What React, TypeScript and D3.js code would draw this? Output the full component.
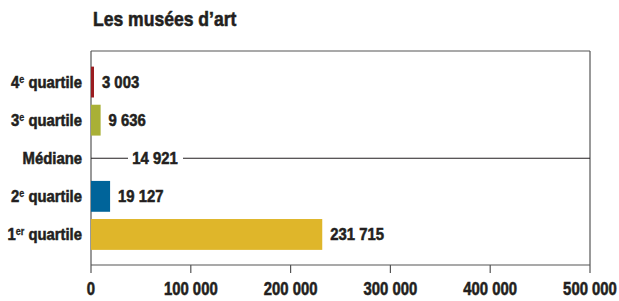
import React from "react";
import * as d3 from "d3";

const categories = ["4e quartile", "3e quartile", "Médiane", "2e quartile", "1er quartile"];
const labelMain = ["4", "3", "Médiane", "2", "1"];
const labelSup = ["e", "e", "", "e", "er"];
const values = [3003, 9636, 14921, 19127, 231715];
const isLine = [false, false, true, false, false];
const colors = ["#9a1c20", "#a9b036", "", "#00649a", "#dfb62a"];
const ticks = [0, 100000, 200000, 300000, 400000, 500000];
const title = "Les musées d’art";

const FONT = "'Liberation Sans', Arial, sans-serif";
const fmt = (v: number) => d3.format(",")(v).replace(/,/g, " ");
const INK = "#231f20";

function T(props: { x: number; y: number; sx: number; size: number; anchor?: string; children: React.ReactNode }) {
  return (
    <text
      transform={`translate(${props.x},${props.y}) scale(${props.sx},1)`}
      fontSize={props.size}
      textAnchor={props.anchor || "start"}
      fill={INK}
      stroke={INK}
      strokeWidth={0.55}
    >
      {props.children}
    </text>
  );
}

export default function App() {
  const W = 619, H = 301;
  const left = 91, right = 590, top = 51, bottom = 265;
  const x = d3.scaleLinear().domain([0, 500000]).range([left, right]);
  const y = d3.scaleBand<string>().domain(categories).range([63, 253.5]).paddingInner(0.19).paddingOuter(0.095);
  const axisColor = "#555";
  return (
    <svg width={W} height={H} style={{ position: "absolute", left: 0, top: 0 }} fontFamily={FONT} fontWeight="bold">
      <rect width={W} height={H} fill="#fff" />
      <T x={93} y={26} sx={0.9} size={19.5}>{title}</T>
      <line x1={left} x2={right} y1={top} y2={top} stroke={axisColor} strokeWidth={1.2} />
      <line x1={right} x2={right} y1={top} y2={bottom} stroke={axisColor} strokeWidth={1.2} />
      <line x1={left} x2={left} y1={top} y2={bottom} stroke={axisColor} strokeWidth={1.2} />
      <line x1={left} x2={right} y1={bottom} y2={bottom} stroke={axisColor} strokeWidth={1.2} />
      {ticks.map((t) => (
        <g key={t}>
          <line x1={x(t)} x2={x(t)} y1={bottom} y2={bottom + 8} stroke={axisColor} strokeWidth={1.2} />
          <T x={x(t)} y={295} sx={0.85} size={17.5} anchor="middle">{fmt(t)}</T>
        </g>
      ))}
      {categories.map((c, i) => {
        const yc = (y(c) as number) + y.bandwidth() / 2;
        return (
          <g key={c}>
            <T x={82} y={yc + 6} sx={0.9} size={16.5} anchor="end">
              {labelMain[i]}
              {labelSup[i] && <tspan fontSize={10} dy={-5.5} strokeWidth={0.3}>{labelSup[i]}</tspan>}
              {labelSup[i] && <tspan fontSize={16.5} dy={5.5}>{" quartile"}</tspan>}
            </T>
            {isLine[i] ? (
              <g>
                <line x1={left} x2={right} y1={yc} y2={yc} stroke={INK} strokeWidth={1.2} />
                <rect x={x(0) + 37} y={yc - 9} width={55} height={18} fill="#fff" />
                <T x={x(0) + 64} y={yc + 6} sx={0.9} size={16.5} anchor="middle">{fmt(values[i])}</T>
              </g>
            ) : (
              <g>
                <rect x={x(0)} y={y(c)} width={x(values[i]) - x(0)} height={y.bandwidth()} fill={colors[i]} />
                <T x={x(values[i]) + 8} y={yc + 6} sx={0.9} size={16.5}>{fmt(values[i])}</T>
              </g>
            )}
          </g>
        );
      })}
    </svg>
  );
}
